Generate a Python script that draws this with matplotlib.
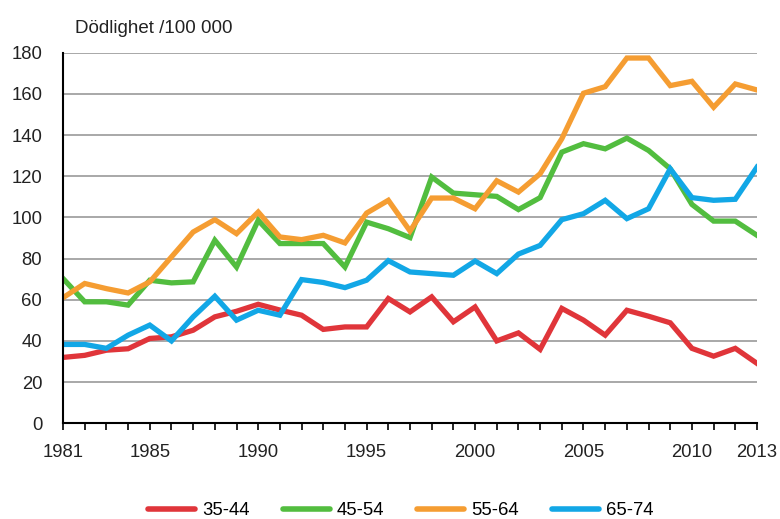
import numpy as np
import matplotlib
matplotlib.use("Agg")
import matplotlib.pyplot as plt

plt.rcParams['font.family'] = ['Liberation Sans', 'DejaVu Sans']

years = list(range(1981, 2014))

age_35_44 = [32.0, 33.0, 35.5, 36.2, 41.2, 42.0, 45.2, 51.7, 54.4, 57.8,
             55.0, 52.5, 45.6, 46.8, 46.8, 60.6, 54.1, 61.4, 49.3, 56.5,
             40.0, 43.9, 35.9, 55.8, 50.1, 42.8, 54.9, 52.0, 48.8, 36.4,
             32.6, 36.4, 29.1]
age_45_54 = [70.3, 59.0, 59.0, 57.4, 69.5, 68.2, 68.7, 88.9, 75.9, 98.6,
             87.3, 87.3, 87.3, 75.9, 97.7, 94.5, 90.2, 119.6, 111.8, 111.0,
             110.2, 103.8, 109.6, 131.7, 135.8, 133.3, 138.5, 132.5, 123.6, 106.3,
             98.2, 98.2, 91.3]
age_55_64 = [61.0, 67.9, 65.4, 63.3, 68.7, 80.8, 92.9, 98.9, 92.1, 102.6,
             90.5, 89.2, 91.3, 87.6, 102.1, 108.3, 93.4, 109.4, 109.4, 104.2,
             117.8, 112.3, 121.2, 138.2, 160.3, 163.5, 177.4, 177.4, 164.0, 166.1,
             153.5, 164.8, 161.9]
age_65_74 = [38.3, 38.3, 36.4, 42.8, 47.7, 40.0, 51.7, 61.7, 50.1, 54.9,
             52.5, 69.8, 68.4, 65.9, 69.5, 79.0, 73.5, 72.7, 71.9, 78.8,
             72.7, 82.2, 86.4, 98.9, 101.8, 108.3, 99.4, 104.2, 123.6, 109.6,
             108.3, 108.8, 124.4]

series = [("35-44", age_35_44, "#e0353a"),
          ("45-54", age_45_54, "#52bd3f"),
          ("55-64", age_55_64, "#f59d32"),
          ("65-74", age_65_74, "#12a7e6")]

xlabels = [1981, 1985, 1990, 1995, 2000, 2005, 2010, 2013]

fig = plt.figure(figsize=(7.8, 5.19), dpi=100)
ax = fig.add_axes([0.0808, 0.1844, 0.8897, 0.7141])

for name, vals, col in series:
    ax.plot(years, vals, color=col, lw=3.8, label=name, solid_joinstyle='miter')

ax.set_xlim(1981, 2013)
ax.set_ylim(0, 180)
ax.set_yticks(np.arange(0, 181, 20))
ax.set_xticks(years, minor=False)
ax.set_xticklabels([str(y) if y in xlabels else "" for y in years])
ax.yaxis.grid(True, color="#999999", lw=1.2)
ax.set_axisbelow(True)
for s in ["top", "right"]:
    ax.spines[s].set_visible(False)
ax.spines["left"].set_linewidth(1.5)
ax.spines["bottom"].set_linewidth(1.5)
ax.tick_params(axis="y", length=0, pad=15, labelsize=13.3)
ax.tick_params(axis="x", length=5, width=1.2, direction="out", pad=10,
               labelsize=13.3)
for lab in ax.get_xticklabels() + ax.get_yticklabels():
    lab.set_color("#222222")

fig.text(0.096, 0.937, "Dödlighet /100 000", fontsize=13.5, color="#222222")

leg = fig.legend(loc="center", ncol=4, frameon=False, fontsize=13.3,
                 bbox_to_anchor=(0.514, 0.016), handlelength=2.55,
                 columnspacing=1.78, handletextpad=0.39)
for h in leg.get_lines():
    h.set_solid_capstyle('round')
    h.set_linewidth(4)

fig.savefig("out.png", dpi=100)
